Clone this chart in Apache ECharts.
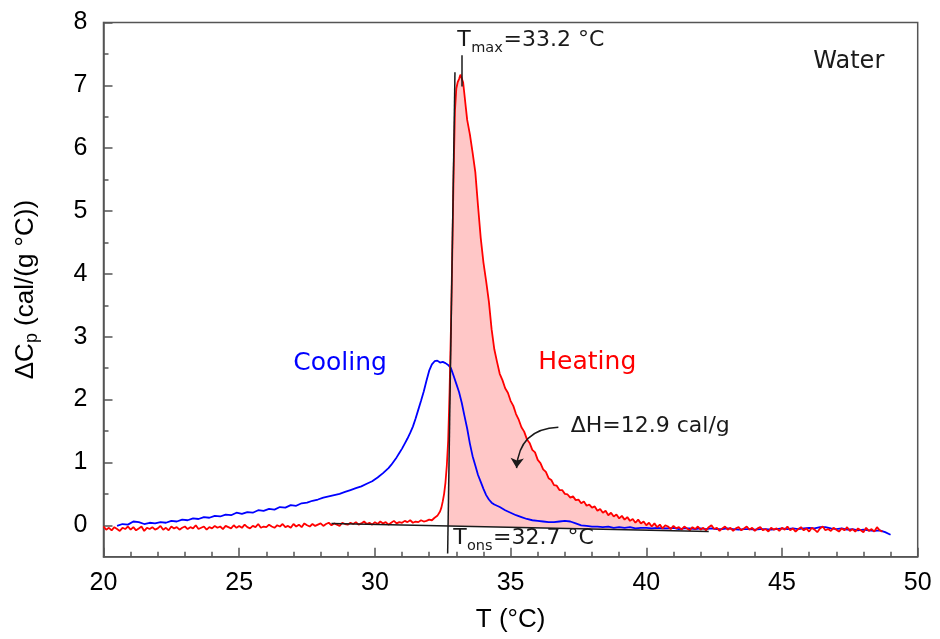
<!DOCTYPE html>
<html><head><meta charset="utf-8">
<script src="https://cdn.jsdelivr.net/npm/echarts@6/dist/echarts.min.js"></script>
<style>html,body{margin:0;padding:0;background:#fff}#c{width:940px;height:639px}</style>
</head><body><div id="c"></div>
<script>
const xTicks = [20, 25, 30, 35, 40, 45, 50];
const yTicks = [0, 1, 2, 3, 4, 5, 6, 7, 8];
const yMinorTicks = [0.5, 1.5, 2.5, 3.5, 4.5, 5.5, 6.5, 7.5];

// Heating scan [T (°C), ΔCp (cal/(g °C))]
const heating = [
[20.0,-0.02],[20.1,-0.07],[20.2,-0.04],[20.3,-0.08],[20.4,-0.03],[20.5,-0.06],[20.6,-0.09],[20.7,-0.04],[20.8,-0.06],[20.9,-0.02],
[21.0,-0.07],[21.1,-0.03],[21.2,-0.08],[21.3,-0.05],[21.4,-0.02],[21.5,-0.09],[21.6,-0.04],[21.7,-0.06],[21.8,-0.03],[21.9,-0.07],
[22.0,-0.05],[22.1,-0.01],[22.2,-0.07],[22.3,-0.04],[22.4,-0.08],[22.5,-0.02],[22.6,-0.05],[22.7,-0.03],[22.8,-0.07],[22.9,-0.04],
[23.0,-0.02],[23.1,-0.06],[23.2,-0.03],[23.3,-0.05],[23.4,0.00],[23.5,-0.06],[23.6,-0.04],[23.7,-0.02],[23.8,-0.07],[23.9,-0.03],
[24.0,-0.05],[24.1,-0.01],[24.2,-0.04],[24.3,-0.02],[24.4,-0.06],[24.5,-0.01],[24.6,-0.03],[24.7,-0.05],[24.8,0.00],[24.9,-0.04],
[25.0,-0.01],[25.1,-0.04],[25.2,0.01],[25.3,-0.03],[25.4,-0.05],[25.5,-0.01],[25.6,-0.03],[25.7,0.02],[25.8,-0.04],[25.9,-0.02],
[26.0,-0.03],[26.1,0.01],[26.2,-0.02],[26.3,-0.04],[26.4,0.00],[26.5,-0.02],[26.6,0.02],[26.7,-0.03],[26.8,-0.01],[26.9,-0.04],
[27.0,0.02],[27.1,-0.02],[27.2,0.01],[27.3,-0.03],[27.4,0.03],[27.5,0.00],[27.6,-0.02],[27.7,0.02],[27.8,-0.01],[27.9,0.01],
[28.0,0.03],[28.1,-0.01],[28.2,0.02],[28.3,0.04],[28.4,0.00],[28.5,0.03],[28.6,0.01],[28.7,-0.01],[28.8,0.04],[28.9,0.02],
[29.0,0.01],[29.1,0.04],[29.2,0.02],[29.3,0.05],[29.4,0.01],[29.5,0.03],[29.6,0.06],[29.7,0.02],[29.8,0.04],[29.9,0.01],
[30.0,0.05],[30.1,0.02],[30.2,0.06],[30.3,0.03],[30.4,0.05],[30.5,0.01],[30.6,0.04],[30.7,0.07],[30.8,0.03],[30.9,0.05],
[31.0,0.04],[31.1,0.07],[31.2,0.05],[31.3,0.08],[31.4,0.04],[31.5,0.06],[31.6,0.05],[31.7,0.08],[31.8,0.06],[31.9,0.07],
[32.0,0.09],[32.1,0.08],[32.2,0.12],[32.3,0.15],[32.35,0.18],[32.4,0.22],[32.45,0.28],[32.5,0.38],[32.55,0.5],[32.6,0.68],
[32.65,0.95],[32.7,1.35],[32.75,2.1],[32.8,3.1],[32.85,4.3],[32.9,5.6],[32.95,6.6],
[33.0,6.95],[33.05,7.05],[33.1,7.1],[33.15,7.17],[33.2,7.2],[33.25,7.05],[33.3,6.85],[33.35,6.65],[33.4,6.45],
[33.5,6.22],[33.6,5.93],[33.7,5.62],[33.8,5.08],[33.9,4.57],
[34.0,4.18],[34.1,3.88],[34.2,3.56],[34.3,3.12],[34.4,2.8],[34.5,2.6],[34.6,2.41],[34.7,2.31],[34.8,2.18],[34.9,2.11],
[35.0,1.98],[35.1,1.9],[35.2,1.77],[35.3,1.68],[35.4,1.56],[35.5,1.49],[35.6,1.37],[35.7,1.31],[35.8,1.2],[35.9,1.16],
[36.0,1.04],[36.1,0.99],[36.2,0.89],[36.3,0.85],[36.4,0.75],[36.5,0.72],[36.6,0.64],[36.7,0.63],[36.8,0.56],[36.9,0.56],
[37.0,0.5],[37.1,0.49],[37.2,0.44],[37.3,0.46],[37.4,0.4],[37.5,0.41],[37.6,0.35],[37.7,0.38],[37.8,0.31],[37.9,0.33],
[38.0,0.28],[38.1,0.3],[38.2,0.23],[38.3,0.26],[38.4,0.2],[38.5,0.23],[38.6,0.16],[38.7,0.2],[38.8,0.14],[38.9,0.17],
[39.0,0.11],[39.1,0.15],[39.2,0.09],[39.3,0.13],[39.4,0.07],[39.5,0.1],[39.6,0.04],[39.7,0.09],[39.8,0.03],[39.9,0.06],
[40.0,0.0],[40.1,0.04],[40.2,-0.02],[40.3,0.03],[40.4,-0.03],[40.5,0.01],[40.6,-0.05],[40.7,0.0],[40.8,-0.02],[40.9,-0.06],
[41.0,-0.01],[41.1,-0.05],[41.2,-0.03],[41.3,-0.07],[41.4,-0.02],[41.5,-0.05],[41.6,-0.08],[41.7,-0.03],[41.8,-0.06],[41.9,-0.02],
[42.0,-0.07],[42.1,-0.04],[42.2,-0.08],[42.3,-0.03],[42.4,0.0],[42.5,-0.06],[42.6,-0.04],[42.7,-0.09],[42.8,-0.05],[42.9,-0.02],
[43.0,-0.07],[43.1,-0.04],[43.2,-0.09],[43.3,-0.05],[43.4,-0.03],[43.5,-0.08],[43.6,-0.05],[43.7,-0.02],[43.8,-0.07],[43.9,-0.04],
[44.0,-0.09],[44.1,-0.05],[44.2,-0.03],[44.3,-0.08],[44.4,-0.06],[44.5,-0.1],[44.6,-0.04],[44.7,-0.07],[44.8,-0.05],[44.9,-0.09],
[45.0,-0.04],[45.1,-0.07],[45.2,-0.02],[45.3,-0.08],[45.4,-0.05],[45.5,-0.1],[45.6,-0.06],[45.7,-0.03],[45.8,-0.08],[45.9,-0.05],
[46.0,-0.1],[46.1,-0.04],[46.2,-0.07],[46.3,-0.11],[46.4,-0.05],[46.5,-0.02],[46.6,-0.08],[46.7,-0.06],[46.8,-0.09],[46.9,-0.04],
[47.0,-0.07],[47.1,-0.1],[47.2,-0.05],[47.3,-0.08],[47.4,-0.03],[47.5,-0.09],[47.6,-0.06],[47.7,-0.1],[47.8,-0.05],[47.9,-0.08],
[48.0,-0.11],[48.1,-0.04],[48.2,-0.09],[48.3,-0.06],[48.4,-0.1],[48.5,-0.03],[48.6,-0.08],[48.7,-0.1]
];

// Cooling scan [T (°C), ΔCp (cal/(g °C))]
const cooling = [
[20.5,-0.01],[20.7,0.02],[20.9,0.01],[21.1,0.06],[21.3,0.05],[21.5,0.02],[21.7,0.04],[21.9,0.03],[22.1,0.05],[22.3,0.04],
[22.5,0.07],[22.7,0.06],[22.9,0.09],[23.1,0.08],[23.3,0.11],[23.5,0.1],[23.7,0.13],[23.9,0.12],[24.1,0.15],[24.3,0.14],
[24.5,0.17],[24.7,0.16],[24.9,0.2],[25.1,0.18],[25.3,0.21],[25.5,0.2],[25.7,0.24],[25.9,0.23],[26.1,0.26],[26.3,0.25],
[26.5,0.29],[26.7,0.28],[26.9,0.32],[27.1,0.31],[27.3,0.35],[27.5,0.36],[27.7,0.39],[27.9,0.41],[28.1,0.44],[28.3,0.46],
[28.5,0.48],[28.7,0.5],[28.9,0.53],[29.1,0.56],[29.3,0.59],[29.5,0.62],[29.7,0.66],[29.9,0.7],[30.1,0.76],[30.3,0.83],
[30.5,0.91],[30.6,0.96],[30.7,1.02],[30.8,1.08],[30.9,1.15],[31.0,1.22],[31.1,1.3],[31.2,1.38],[31.3,1.47],[31.4,1.57],
[31.5,1.7],[31.6,1.84],[31.7,1.98],[31.8,2.13],[31.9,2.3],[32.0,2.46],[32.1,2.56],[32.2,2.61],[32.3,2.62],[32.4,2.59],
[32.5,2.6],[32.6,2.58],[32.7,2.55],[32.8,2.5],[32.9,2.38],[33.0,2.25],[33.1,2.12],[33.2,1.95],[33.3,1.74],[33.4,1.54],
[33.5,1.3],[33.6,1.1],[33.7,0.95],[33.8,0.8],[33.9,0.69],[34.0,0.58],[34.1,0.48],[34.2,0.41],[34.3,0.36],[34.4,0.33],
[34.6,0.29],[34.8,0.24],[35.0,0.2],[35.2,0.16],[35.4,0.13],[35.6,0.1],[35.8,0.08],[36.0,0.07],[36.2,0.06],[36.4,0.05],
[36.6,0.05],[36.8,0.06],[37.0,0.07],[37.2,0.06],[37.4,0.03],[37.6,0.0],[37.8,-0.01],[38.0,-0.02],[38.2,-0.02],[38.4,-0.03],
[38.6,-0.02],[38.8,-0.04],[39.0,-0.03],[39.2,-0.04],[39.4,-0.03],[39.6,-0.05],[39.8,-0.04],[40.0,-0.04],[40.2,-0.05],[40.4,-0.04],
[40.6,-0.05],[40.8,-0.05],[41.0,-0.04],[41.2,-0.06],[41.4,-0.05],[41.6,-0.05],[41.8,-0.06],[42.0,-0.05],[42.2,-0.06],[42.4,-0.05],
[42.6,-0.06],[42.8,-0.06],[43.0,-0.05],[43.2,-0.06],[43.4,-0.07],[43.6,-0.06],[43.8,-0.06],[44.0,-0.07],[44.2,-0.06],[44.4,-0.06],
[44.6,-0.07],[44.8,-0.06],[45.0,-0.05],[45.2,-0.06],[45.4,-0.05],[45.6,-0.06],[45.8,-0.05],[46.0,-0.04],[46.2,-0.05],[46.4,-0.03],
[46.6,-0.03],[46.8,-0.05],[47.0,-0.06],[47.2,-0.05],[47.4,-0.07],[47.6,-0.06],[47.8,-0.08],[48.0,-0.07],[48.2,-0.08],[48.4,-0.09],
[48.6,-0.08],[48.8,-0.11],[49.0,-0.15]
];

// Annotation geometry (data coordinates)
const tangentLine = [[32.68, -0.45], [32.95, 7.21]];
const baseLine = [[28.4, 0.03], [42.3, -0.1]];
const tmaxMark = [[33.2, 6.98], [33.2, 7.48]];
const arrowLine = [[36.76, 1.56], [35.22, 0.91]];
const fillStart = [32.7, -0.01];
const fillEnd = [41.0, -0.085];

const fillPoly = [fillStart].concat(
  heating.filter(p => p[0] > fillStart[0] && p[0] < fillEnd[0]),
  [fillEnd]
);

const AX = '#555';
const AXFONT = 'Liberation Sans';
const ANFONT = 'DejaVu Sans';
const TXT = '#1a1a1a';

const chart = echarts.init(document.getElementById('c'), null, {renderer: 'canvas'});

function txt(x, y, s, size, color) {
  return {type: 'text', x: x, y: y, silent: true, z: 100,
    style: {text: s, fontSize: size, fontFamily: ANFONT, fill: color || TXT, align: 'left', verticalAlign: 'middle'}};
}

chart.setOption({
  animation: false,
  backgroundColor: '#fff',
  grid: {left: 103.5, top: 22.5, right: 22.3, bottom: 82.3, show: true, borderColor: AX, borderWidth: 1.5,
    backgroundColor: 'transparent', containLabel: false, outerBoundsMode: 'none'},
  xAxis: {
    type: 'value', min: xTicks[0], max: xTicks[xTicks.length - 1], interval: 5,
    name: 'T (°C)', nameLocation: 'middle', nameGap: 50,
    nameTextStyle: {fontSize: 26, fontFamily: AXFONT, color: '#000'},
    axisLine: {show: true, onZero: false, lineStyle: {color: AX, width: 1.5}},
    axisTick: {show: true, inside: true, length: 9, lineStyle: {color: AX, width: 1.5}},
    minorTick: {show: true, splitNumber: 5, length: 5, lineStyle: {color: AX, width: 1.5}},
    splitLine: {show: false}, minorSplitLine: {show: false},
    axisLabel: {fontSize: 25, fontFamily: AXFONT, color: '#000', margin: 14}
  },
  yAxis: [{
    type: 'value', min: -0.5, max: 8,
    name: '{a|ΔC}{s|p}{a| (cal/(g °C))}', nameLocation: 'middle', nameGap: 62, nameRotate: 90,
    nameTextStyle: {fontSize: 26, fontFamily: AXFONT, color: '#000',
      rich: {a: {fontSize: 26, fontFamily: AXFONT, color: '#000', lineHeight: 32},
             s: {fontSize: 18, fontFamily: AXFONT, color: '#000', lineHeight: 18, verticalAlign: 'bottom'}}},
    axisLine: {show: true, onZero: false, lineStyle: {color: AX, width: 1.5}},
    axisTick: {show: true, inside: true, length: 9, lineStyle: {color: AX, width: 1.5}, customValues: yTicks},
    splitLine: {show: false},
    axisLabel: {fontSize: 25, fontFamily: AXFONT, color: '#000', margin: 16, customValues: yTicks}
  }, {
    type: 'value', min: -0.5, max: 8, position: 'left',
    axisLine: {show: false},
    axisTick: {show: true, inside: true, length: 5, lineStyle: {color: AX, width: 1.5}, customValues: yMinorTicks},
    axisLabel: {show: false, customValues: yMinorTicks},
    splitLine: {show: false}
  }],
  series: [
    {
      type: 'custom', name: 'fill', z: 1, silent: true, clip: true,
      xAxisIndex: 0, yAxisIndex: 0,
      data: fillPoly, encode: {x: 0, y: 1},
      renderItem: function (params, api) {
        if (params.dataIndex !== 0) return null;
        return {type: 'polygon', shape: {points: fillPoly.map(p => api.coord(p))},
          style: {fill: '#ffc7c7', stroke: null}};
      }
    },
    {
      type: 'line', name: 'Cooling', z: 2, data: cooling, showSymbol: false, symbol: 'none',
      lineStyle: {color: '#0000ff', width: 1.8}, itemStyle: {color: '#0000ff'}, silent: true
    },
    {
      type: 'line', name: 'Heating', z: 3, data: heating, showSymbol: false, symbol: 'none',
      lineStyle: {color: '#ff0000', width: 1.8}, itemStyle: {color: '#ff0000'}, silent: true
    },
    {
      type: 'line', name: 'guides', z: 4, data: [], silent: true,
      markLine: {
        silent: true, symbol: ['none', 'none'], label: {show: false}, animation: false,
        lineStyle: {color: '#1a1a1a', width: 1.5, type: 'solid'},
        emphasis: {disabled: true},
        data: [
          [{coord: tangentLine[0]}, {coord: tangentLine[1]}],
          [{coord: baseLine[0]}, {coord: baseLine[1]}],
          [{coord: tmaxMark[0]}, {coord: tmaxMark[1]}]
        ]
      }
    },
    {
      type: 'lines', name: 'arrow', coordinateSystem: 'cartesian2d', z: 4, silent: true,
      symbol: ['none', 'arrow'], symbolSize: 10, polyline: false,
      lineStyle: {color: '#1a1a1a', width: 1.5, opacity: 1, curveness: -0.45},
      effect: {show: false},
      data: [{coords: arrowLine}]
    }
  ],
  graphic: [
    txt(457.3, 40.3, 'T', 22), txt(471.2, 48.3, 'max', 14.5), txt(503.5, 40.3, '=33.2 °C', 22),
    txt(453.3, 538.7, 'T', 22), txt(467.0, 546.5, 'ons', 14.5), txt(493.0, 538.7, '=32.7 °C', 22),
    txt(570.7, 426.7, 'ΔH=12.9 cal/g', 22),
    txt(813.3, 62.2, 'Water', 24),
    txt(293.3, 363.2, 'Cooling', 25, '#0000ff'),
    txt(538.3, 362.6, 'Heating', 25, '#ff0000')
  ]
});
</script>
</body></html>
